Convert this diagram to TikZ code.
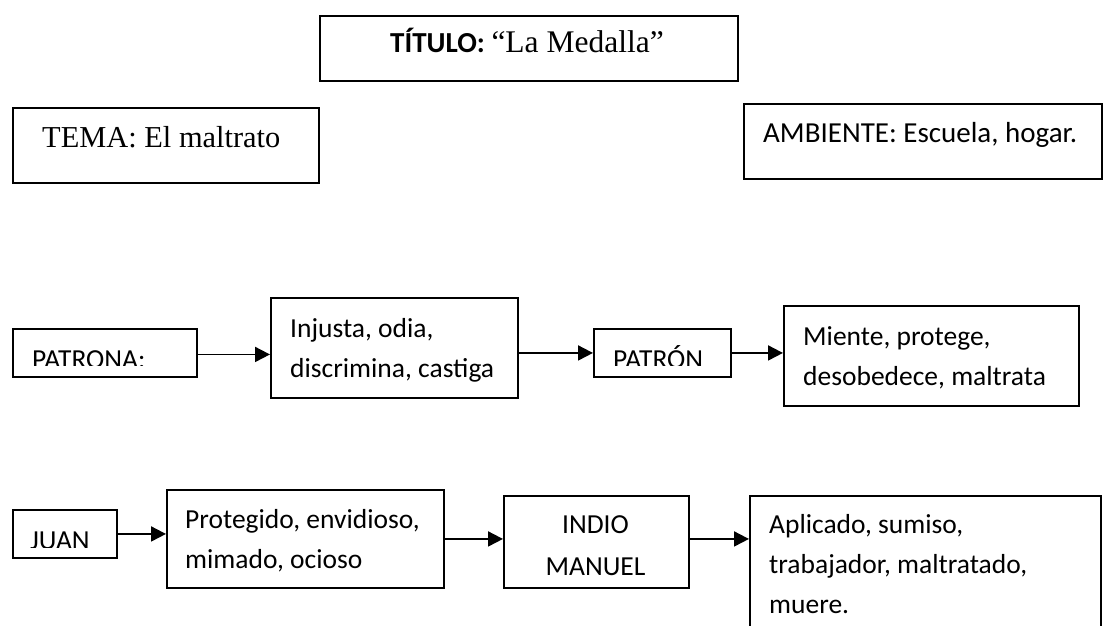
\documentclass[tikz,border=0pt]{standalone}
\usepackage{fontspec}
\setmainfont{Carlito}
\newfontfamily\tnr{Liberation Serif}
\usetikzlibrary{arrows.meta}
\begin{document}
\begin{tikzpicture}[x=1pt,y=-1pt,
  box/.style={draw, line width=1.9pt, inner sep=0pt, anchor=north west},
  lbl/.style={inner sep=0pt, anchor=base west, font=\fontsize{27.5}{40}\selectfont, align=left},
  conn/.style={line width=1.9pt, -{Triangle[length=15pt,width=15pt]}}]
\clip (0,0) rectangle (1103,626);
% boxes
\node[box, minimum width=418pt, minimum height=65pt] (title) at (319,15) {};
\node[box, minimum width=306pt, minimum height=75pt] (tema) at (12,107) {};
\node[box, minimum width=358pt, minimum height=75pt] (amb) at (743,103) {};
\node[box, minimum width=184pt, minimum height=48pt] (patrona) at (12,328) {};
\node[box, minimum width=247pt, minimum height=100pt] (injusta) at (270,297) {};
\node[box, minimum width=137pt, minimum height=48pt] (patron) at (593,328) {};
\node[box, minimum width=295pt, minimum height=100pt] (miente) at (783,305) {};
\node[box, minimum width=104pt, minimum height=48pt] (juan) at (12,509) {};
\node[box, minimum width=277pt, minimum height=98pt] (prot) at (166,489) {};
\node[box, minimum width=185pt, minimum height=92pt] (indio) at (503,495) {};
\node[box, minimum width=351pt, minimum height=150pt] (aplic) at (749,495) {};
% texts
\node[inner sep=0pt, anchor=base west] (t-title) at (390,53)
  {\fontsize{29}{35}\selectfont\bfseries TÍTULO: \tnr\mdseries\fontsize{31.5}{35}\selectfont “La Medalla”};
\node[inner sep=0pt, anchor=base west] (t-tema) at (42,147)
  {\tnr\fontsize{30.4}{36}\selectfont TEMA: El maltrato};
\node[inner sep=0pt, anchor=base west] (t-amb) at (763,142)
  {\fontsize{29}{36}\selectfont AMBIENTE: Escuela, hogar.};
\begin{scope}
  \clip (0,0) rectangle (1103,365);
  \node[lbl] (t-patrona) at (32,368) {PATRONA:};
  \node[lbl] (t-patron) at (613,368.5) {PATRÓN};
\end{scope}
\begin{scope}
  \clip (0,0) rectangle (1103,547);
  \node[lbl] (t-juan) at (30,549.4) {JUAN};
\end{scope}
% multi-line labels: the given point is the baseline of the last line
\node[lbl] (t-injusta) at (290,377) {Injusta, odia,\\discrimina, castiga};
\node[lbl] (t-miente) at (803,385) {Miente, protege,\\desobedece, maltrata};
\node[lbl] (t-prot) at (185,568) {Protegido, envidioso,\\mimado, ocioso};
\node[lbl, anchor=base, align=center, font=\fontsize{27.5}{42}\selectfont] (t-indio) at (595.5,575) {INDIO\\MANUEL};
\node[lbl] (t-aplic) at (769,613) {Aplicado, sumiso,\\trabajador, maltratado,\\muere.};
% connectors
\draw[conn] ([yshift=-1.5pt]patrona.east) -- ([yshift=-1.5pt]patrona.east -| injusta.west);
\draw[conn] (injusta.east |- patron.west) -- (patron.west);
\draw[conn] (patron.east) -- (patron.east -| miente.west);
\draw[conn] (juan.east) -- (juan.east -| prot.west);
\draw[conn] (prot.east) -- (prot.east -| indio.west);
\draw[conn] (prot.east -| indio.east) -- (prot.east -| aplic.west);
\end{tikzpicture}
\end{document}
